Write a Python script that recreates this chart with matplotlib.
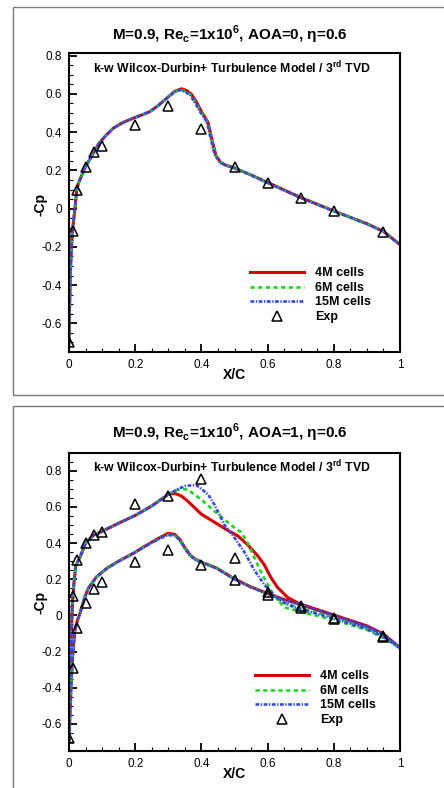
import numpy as np
import matplotlib
matplotlib.use('Agg')
import matplotlib.pyplot as plt
from matplotlib.patches import Rectangle
from matplotlib.ticker import MultipleLocator

plt.rcParams['font.family'] = ['Liberation Sans', 'DejaVu Sans']

# ---- AOA = 0 panel -------------------------------------------------------
a0_x_15m = [0.0, 0.002, 0.005, 0.01, 0.018, 0.023, 0.028, 0.04, 0.05, 0.07, 0.09, 0.11, 0.134,
            0.16, 0.194, 0.22, 0.244, 0.27, 0.295, 0.32, 0.335, 0.35, 0.366, 0.38, 0.396, 0.416,
            0.43, 0.44, 0.455, 0.47, 0.5, 0.55, 0.6, 0.7, 0.8, 0.9, 0.95, 1.0]
a0_y_15m = [-0.71, -0.5, -0.3, -0.12, 0.0, 0.09, 0.13, 0.18, 0.22, 0.28, 0.34, 0.38, 0.421,
            0.448, 0.473, 0.49, 0.507, 0.54, 0.577, 0.612, 0.62, 0.612, 0.594, 0.555, 0.507, 0.456,
            0.352, 0.283, 0.245, 0.23, 0.213, 0.175, 0.135, 0.057, -0.013, -0.08, -0.12, -0.19]
a0_x_6m = [0.0, 0.002, 0.005, 0.01, 0.018, 0.023, 0.028, 0.04, 0.05, 0.07, 0.09, 0.11, 0.134,
           0.16, 0.194, 0.22, 0.244, 0.27, 0.295, 0.32, 0.337, 0.352, 0.368, 0.382, 0.398, 0.418,
           0.432, 0.442, 0.456, 0.47, 0.5, 0.55, 0.6, 0.7, 0.8, 0.9, 0.95, 1.0]
a0_y_6m = [-0.71, -0.5, -0.3, -0.12, 0.0, 0.09, 0.13, 0.18, 0.22, 0.28, 0.34, 0.38, 0.421,
           0.448, 0.473, 0.49, 0.507, 0.54, 0.577, 0.612, 0.621, 0.613, 0.595, 0.556, 0.508, 0.457,
           0.352, 0.284, 0.246, 0.231, 0.214, 0.176, 0.136, 0.058, -0.012, -0.079, -0.119, -0.188]
a0_x_4m = [0.0, 0.002, 0.005, 0.01, 0.018, 0.023, 0.028, 0.04, 0.05, 0.07, 0.09, 0.11, 0.134,
           0.16, 0.194, 0.22, 0.244, 0.27, 0.295, 0.32, 0.34, 0.355, 0.37, 0.385, 0.4, 0.42,
           0.434, 0.444, 0.458, 0.472, 0.5, 0.55, 0.6, 0.7, 0.8, 0.9, 0.95, 1.0]
a0_y_4m = [-0.71, -0.5, -0.3, -0.12, 0.0, 0.09, 0.13, 0.18, 0.22, 0.28, 0.34, 0.38, 0.421,
           0.448, 0.473, 0.49, 0.507, 0.54, 0.577, 0.614, 0.627, 0.618, 0.598, 0.558, 0.508, 0.452,
           0.345, 0.278, 0.242, 0.228, 0.212, 0.176, 0.137, 0.058, -0.012, -0.079, -0.119, -0.188]
a0_exp_x = [0.0, 0.0125, 0.025, 0.05, 0.075, 0.1, 0.2, 0.3, 0.4, 0.5, 0.6, 0.7, 0.8, 0.95]
a0_exp_y = [-0.696, -0.116, 0.10, 0.22, 0.295, 0.33, 0.435, 0.539, 0.416, 0.217, 0.135, 0.057,
            -0.012, -0.12]

# ---- AOA = 1 panel -------------------------------------------------------
le_up_x = [0.0, 0.003, 0.006, 0.01, 0.015, 0.02, 0.027, 0.035, 0.05, 0.075, 0.1, 0.15, 0.2,
           0.25, 0.3]
le_up_y = [-0.70, -0.4, -0.15, 0.05, 0.18, 0.27, 0.30, 0.33, 0.40, 0.445, 0.465, 0.51, 0.553,
           0.605, 0.67]
a1_up_x_15m = le_up_x + [0.33, 0.35, 0.37, 0.385, 0.4, 0.42, 0.44, 0.47, 0.5, 0.53, 0.56, 0.59,
                         0.62, 0.65, 0.68, 0.7, 0.8, 0.9, 0.95, 1.0]
a1_up_y_15m = le_up_y + [0.70, 0.715, 0.72, 0.72, 0.70, 0.67, 0.61, 0.50, 0.43, 0.35, 0.25, 0.17,
                         0.11, 0.07, 0.045, 0.035, -0.018, -0.075, -0.12, -0.18]
a1_up_x_6m = le_up_x + [0.32, 0.34, 0.36, 0.40, 0.45, 0.5, 0.52, 0.54, 0.56, 0.58, 0.6, 0.62,
                        0.65, 0.7, 0.8, 0.9, 0.95, 1.0]
a1_up_y_6m = le_up_y + [0.69, 0.70, 0.695, 0.64, 0.56, 0.485, 0.46, 0.40, 0.32, 0.24, 0.17, 0.11,
                        0.045, 0.02, -0.025, -0.08, -0.125, -0.18]
a1_up_x_4m = le_up_x + [0.32, 0.34, 0.36, 0.38, 0.40, 0.44, 0.48, 0.51, 0.54, 0.57, 0.59, 0.61,
                        0.63, 0.66, 0.7, 0.8, 0.9, 0.95, 1.0]
a1_up_y_4m = le_up_y + [0.675, 0.66, 0.63, 0.595, 0.56, 0.515, 0.47, 0.44, 0.39, 0.33, 0.28, 0.21,
                        0.155, 0.10, 0.06, 0.0, -0.06, -0.105, -0.18]
a1_lo_x = [0.0, 0.003, 0.007, 0.012, 0.018, 0.025, 0.033, 0.048, 0.058, 0.083, 0.114, 0.15,
           0.194, 0.245, 0.28, 0.3, 0.32, 0.335, 0.35, 0.366, 0.38, 0.396, 0.446, 0.496, 0.547,
           0.597, 0.65, 0.7, 0.8, 0.9, 0.95, 1.0]
a1_lo_y_15m = [-0.70, -0.55, -0.35, -0.2, -0.08, -0.03, 0.011, 0.103, 0.149, 0.213, 0.26, 0.30,
               0.343, 0.398, 0.43, 0.445, 0.44, 0.416, 0.37, 0.33, 0.31, 0.296, 0.26, 0.204,
               0.158, 0.121, 0.085, 0.06, 0.0, -0.06, -0.105, -0.18]
a1_lo_y_6m = [-0.70, -0.55, -0.35, -0.2, -0.08, -0.03, 0.011, 0.103, 0.149, 0.213, 0.26, 0.30,
              0.343, 0.398, 0.432, 0.447, 0.442, 0.418, 0.372, 0.332, 0.312, 0.298, 0.262, 0.206,
              0.16, 0.121, 0.07, 0.04, -0.01, -0.068, -0.112, -0.18]
a1_lo_y_4m = [-0.70, -0.55, -0.35, -0.2, -0.08, -0.03, 0.011, 0.103, 0.149, 0.213, 0.26, 0.30,
              0.343, 0.4, 0.436, 0.455, 0.448, 0.42, 0.375, 0.334, 0.313, 0.298, 0.262, 0.206,
              0.16, 0.123, 0.088, 0.062, 0.002, -0.058, -0.103, -0.18]
a1_exp_x = [0.0, 0.0125, 0.025, 0.05, 0.075, 0.1, 0.2, 0.3, 0.4, 0.5,
            0.0125, 0.025, 0.05, 0.075, 0.1, 0.2, 0.3, 0.4, 0.5,
            0.6, 0.6, 0.7, 0.7, 0.8, 0.8, 0.95, 0.95]
a1_exp_y = [-0.68, 0.107, 0.305, 0.398, 0.447, 0.462, 0.619, 0.659, 0.757, 0.315,
            -0.293, -0.072, 0.066, 0.144, 0.186, 0.293, 0.361, 0.278, 0.195,
            0.13, 0.115, 0.05, 0.04, -0.015, -0.022, -0.115, -0.12]

titles = ['M=0.9, Re$_\\mathregular{c}$=1x10$^\\mathregular{6}$, AOA=0, \u03b7=0.6',
          'M=0.9, Re$_\\mathregular{c}$=1x10$^\\mathregular{6}$, AOA=1, \u03b7=0.6']
subtitle = 'k-w Wilcox-Durbin+ Turbulence Model / 3$^\\mathregular{rd}$ TVD'
labels = ['4M cells', '6M cells', '15M cells', 'Exp']

red, green, blue = '#dd0000', '#11dd11', '#3344ff'
st_red = dict(color=red, lw=2.2, ls='-')
st_green = dict(color=green, lw=1.9, ls=(0, (1.6, 1.3)))
st_blue = dict(color=blue, lw=1.9, ls=(0, (1.4, 0.6, 0.5, 0.6)))
st_exp = dict(ls='none', marker='^', ms=7, mfc='none', mec='black', mew=1.1)

W, H = 444, 788
fig = plt.figure(figsize=(W / 100, H / 100), dpi=100)

# grey frames around each panel
fig.patches.append(Rectangle((12.5 / W, 1 - 395 / H), 1.2, (395 - 6.7) / H, transform=fig.transFigure,
                             fill=False, ec='#7a7a7a', lw=1.0))
fig.patches.append(Rectangle((12.5 / W, -0.2), 1.2, 0.2 + 1 - 406 / H, transform=fig.transFigure,
                             fill=False, ec='#7a7a7a', lw=1.0))


def style_axes(ax, ylim):
    ax.set_xlim(0, 1)
    ax.set_ylim(*ylim)
    ax.xaxis.set_major_locator(MultipleLocator(0.2))
    ax.xaxis.set_minor_locator(MultipleLocator(0.05))
    ax.yaxis.set_major_locator(MultipleLocator(0.2))
    ax.yaxis.set_minor_locator(MultipleLocator(0.05))
    ax.tick_params(which='both', direction='in', top=False, right=False, labelsize=8.5)
    ax.tick_params(which='major', length=5.5, width=1.3, pad=5)
    ax.tick_params(which='minor', length=2.8, width=0.8)
    ax.xaxis.set_major_formatter(lambda v, p: f'{v:g}')
    ax.yaxis.set_major_formatter(lambda v, p: f'{v:g}')
    for s in ax.spines.values():
        s.set_linewidth(1.5)
    ax.set_xlabel('X/C', fontsize=10, fontweight='bold', labelpad=-2)
    ax.text(0.492, 0.951, subtitle, transform=ax.transAxes, ha='center', va='center',
            fontsize=8.8, fontweight='bold')


def add_legend(ax, handles, anchor):
    ax.legend(handles, labels, loc='upper left', bbox_to_anchor=anchor,
              frameon=False, prop=dict(weight='bold', size=9), handlelength=4.3,
              handletextpad=0.9, labelspacing=0.2, borderpad=0, borderaxespad=0)


# panel 1
ax1 = fig.add_axes([69 / W, 1 - 352 / H, 331 / W, (352 - 53.3) / H])
l4, = ax1.plot(a0_x_4m, a0_y_4m, **st_red)
l6, = ax1.plot(a0_x_6m, a0_y_6m, **st_green)
l15, = ax1.plot(a0_x_15m, a0_y_15m, **st_blue)
le, = ax1.plot(a0_exp_x, a0_exp_y, **st_exp)
style_axes(ax1, (-0.75, 0.8125))
add_legend(ax1, [l4, l6, l15, le], (0.547, 0.283))
fig.text(40 / W, 1 - 205 / H, '-Cp', rotation=90, ha='center', va='center',
         fontsize=10, fontweight='bold')
fig.text(230 / W, 1 - 35 / H, titles[0], ha='center', va='center', fontsize=11, fontweight='bold')

# panel 2
ax2 = fig.add_axes([69 / W, 1 - 751 / H, 331 / W, (751 - 452.7) / H])
ax2.plot(a1_up_x_4m, a1_up_y_4m, **st_red)
ax2.plot(a1_lo_x, a1_lo_y_4m, **st_red)
ax2.plot(a1_up_x_6m, a1_up_y_6m, **st_green)
ax2.plot(a1_lo_x, a1_lo_y_6m, **st_green)
ax2.plot(a1_up_x_15m, a1_up_y_15m, **st_blue)
ax2.plot(a1_lo_x, a1_lo_y_15m, **st_blue)
ax2.plot(a1_exp_x, a1_exp_y, **st_exp)
style_axes(ax2, (-0.75, 0.9))
add_legend(ax2, [l4, l6, l15, le], (0.562, 0.27))
fig.text(40 / W, 1 - 603 / H, '-Cp', rotation=90, ha='center', va='center',
         fontsize=10, fontweight='bold')
fig.text(230 / W, 1 - 433 / H, titles[1], ha='center', va='center', fontsize=11, fontweight='bold')

fig.savefig('out.png', dpi=100)
